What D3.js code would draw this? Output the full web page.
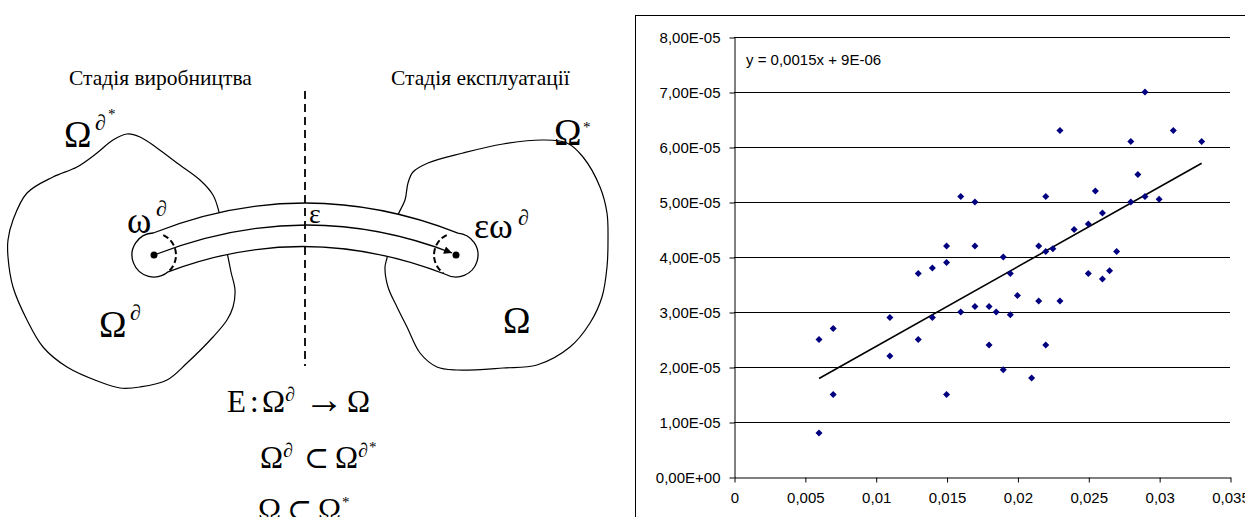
<!DOCTYPE html>
<html>
<head>
<meta charset="utf-8">
<script src="https://cdn.jsdelivr.net/npm/d3@7"></script>
<style>
body { margin: 0; background: #fff; }
svg { display: block; }
</style>
</head>
<body>
<div id="figure"></div>
<script>
// ---- scatter data ----
const xValues = [0.006, 0.006, 0.007, 0.007, 0.011, 0.011, 0.013, 0.013, 0.014, 0.014,
    0.015, 0.015, 0.015, 0.016, 0.016, 0.017, 0.017, 0.017, 0.018, 0.018,
    0.0185, 0.019, 0.019, 0.0195, 0.0195, 0.020, 0.021, 0.0215, 0.0215, 0.022,
    0.022, 0.022, 0.0225, 0.023, 0.023, 0.024, 0.025, 0.025, 0.0255, 0.026,
    0.026, 0.0265, 0.027, 0.028, 0.028, 0.0285, 0.029, 0.029, 0.030, 0.031, 0.033];
const yValues = [2.5e-5, 0.8e-5, 2.7e-5, 1.5e-5, 2.9e-5, 2.2e-5, 3.7e-5, 2.5e-5, 3.8e-5, 2.9e-5,
    4.2e-5, 3.9e-5, 1.5e-5, 5.1e-5, 3.0e-5, 5.0e-5, 4.2e-5, 3.1e-5, 3.1e-5, 2.4e-5,
    3.0e-5, 4.0e-5, 1.95e-5, 3.7e-5, 2.95e-5, 3.3e-5, 1.8e-5, 4.2e-5, 3.2e-5, 5.1e-5,
    4.1e-5, 2.4e-5, 4.15e-5, 6.3e-5, 3.2e-5, 4.5e-5, 4.6e-5, 3.7e-5, 5.2e-5, 4.8e-5,
    3.6e-5, 3.75e-5, 4.1e-5, 6.1e-5, 5.0e-5, 5.5e-5, 7.0e-5, 5.1e-5, 5.05e-5, 6.3e-5, 6.1e-5];

const xTicks = [0, 0.005, 0.01, 0.015, 0.02, 0.025, 0.03, 0.035];
const xTickLabels = ["0", "0,005", "0,01", "0,015", "0,02", "0,025", "0,03", "0,035"];
const yTicks = [0, 1e-5, 2e-5, 3e-5, 4e-5, 5e-5, 6e-5, 7e-5, 8e-5];
const yTickLabels = ["0,00E+00", "1,00E-05", "2,00E-05", "3,00E-05", "4,00E-05",
    "5,00E-05", "6,00E-05", "7,00E-05", "8,00E-05"];

const trendSlope = 0.00145;
const trendIntercept = 9.2e-6;
const trendRange = [0.006, 0.033];
const trendLabel = "y = 0,0015x + 9E-06";

// ---- diagram text ----
const stageLabels = ["Стадія виробництва", "Стадія експлуатації"];

const serif = "'Liberation Serif', 'Times New Roman', 'DejaVu Serif', serif";
const sans = "'Liberation Sans', Arial, sans-serif";

const svg = d3.select("#figure")
    .append("svg")
    .attr("width", 1245)
    .attr("height", 517);

svg.append("rect").attr("width", 1245).attr("height", 517).attr("fill", "#fff");

drawDiagram();
drawScatter();

function drawDiagram() {
    let g = svg.append("g");

    // outlines of the two regions
    const leftBlob = [[127,134],[140,137],[157,148],[177,163],[200,180],[213,195],[219,212],
        [223,235],[228,257],[231,272],[235,290],[233,307],[227,320],[213,337],[187,363],
        [167,380],[140,387],[120,388],[100,382],[67,367],[43,347],[27,320],[13,287],
        [8,257],[8,240],[13,220],[27,193],[53,177],[77,167],[97,153],[113,140]];
    const rightBlob = [[398,215],[405,200],[408,183],[413,172],[428,163],[463,153],[503,144],
        [543,140],[567,143],[583,157],[600,187],[607,213],[608,240],[607,267],[602,297],
        [590,323],[570,347],[537,365],[503,368],[457,370],[437,367],[420,353],[407,327],
        [397,307],[388,287],[385,267],[387,258],[392,236]];

    let blobLine = d3.line().curve(d3.curveCatmullRomClosed.alpha(0.5));
    g.selectAll("path.blob")
        .data([leftBlob, rightBlob])
        .enter()
        .append("path")
        .attr("class", "blob")
        .attr("d", blobLine)
        .attr("fill", "none")
        .attr("stroke", "#000")
        .attr("stroke-width", 1.2);

    // the tube between the two small discs
    const L = [154, 255], R = [456, 255], r = 22;
    function pt(c, deg) {
        let a = deg * Math.PI / 180;
        return [c[0] + r * Math.cos(a), c[1] + r * Math.sin(a)];
    }
    let lt = pt(L, -92), lb = pt(L, 50);
    let rt = pt(R, -85), rb = pt(R, 119);
    let tube = "M" + lt + " Q305,173 " + rt +
        " A" + r + "," + r + " 0 1 1 " + rb +
        " Q305,220 " + lb +
        " A" + r + "," + r + " 0 1 1 " + lt + " Z";
    g.append("path")
        .attr("d", tube)
        .attr("fill", "#fff")
        .attr("stroke", "#000")
        .attr("stroke-width", 1.3);

    // dashed inner halves of the discs
    let ld1 = pt(L, -65), ld2 = pt(L, 50);
    let rd1 = pt(R, -115), rd2 = pt(R, 125);
    g.append("path")
        .attr("d", "M" + ld1 + " A" + r + "," + r + " 0 0 1 " + ld2)
        .attr("fill", "none").attr("stroke", "#000")
        .attr("stroke-width", 2).attr("stroke-dasharray", "6,3");
    g.append("path")
        .attr("d", "M" + rd1 + " A" + r + "," + r + " 0 0 0 " + rd2)
        .attr("fill", "none").attr("stroke", "#000")
        .attr("stroke-width", 2).attr("stroke-dasharray", "6,3");

    // stage divider
    g.append("line")
        .attr("x1", 305).attr("x2", 305)
        .attr("y1", 91).attr("y2", 366)
        .attr("stroke", "#000")
        .attr("stroke-width", 1.8)
        .attr("stroke-dasharray", "8,5");

    // arrow along the middle
    svg.append("defs").append("marker")
        .attr("id", "arrow")
        .attr("viewBox", "0 0 10 10")
        .attr("refX", 10).attr("refY", 5)
        .attr("markerUnits", "userSpaceOnUse")
        .attr("markerWidth", 10).attr("markerHeight", 8)
        .attr("orient", "auto")
        .append("path")
        .attr("d", "M0,0 L10,5 L0,10 Z")
        .attr("fill", "#000");
    g.append("path")
        .attr("d", "M" + L + " Q305,196 452,253")
        .attr("fill", "none")
        .attr("stroke", "#000")
        .attr("stroke-width", 1.3)
        .attr("marker-end", "url(#arrow)");

    g.selectAll("circle.centre")
        .data([L, R])
        .enter()
        .append("circle")
        .attr("class", "centre")
        .attr("cx", d => d[0]).attr("cy", d => d[1])
        .attr("r", 3.5)
        .attr("fill", "#000");

    // headings
    g.append("text").attr("x", 69).attr("y", 85).text(stageLabels[0])
        .attr("font-family", serif).attr("font-size", 21.5);
    g.append("text").attr("x", 391).attr("y", 85).text(stageLabels[1])
        .attr("font-family", serif).attr("font-size", 21.5);

    // symbols: [text, x, y, size]
    const symbols = [
        ["Ω", 64, 147, 37], ["∂", 95, 130, 22], ["*", 108, 119, 15],
        ["Ω", 554, 145, 37], ["*", 583, 132, 15],
        ["ω", 127, 233, 37], ["∂", 156, 216, 22],
        ["ε", 309, 223, 28],
        ["εω", 474, 238, 36], ["∂", 518, 225, 22],
        ["Ω", 99, 337, 37], ["∂", 130, 320, 22],
        ["Ω", 503, 333, 37],
        ["E", 227, 412, 31], [":", 250, 412, 31], ["Ω", 262, 412, 31], ["∂", 285, 401, 20],
        ["→", 304, 413, 40], ["Ω", 347, 412, 31],
        ["Ω", 260, 468, 31], ["∂", 283, 457, 20], ["⊂", 304, 468, 30],
        ["Ω", 335, 468, 31], ["∂", 358, 457, 20], ["*", 369, 452, 15],
        ["Ω", 258, 520, 31], ["⊂", 287, 520, 30], ["Ω", 318, 520, 31], ["*", 342, 507, 15]
    ];
    g.selectAll("text.sym")
        .data(symbols)
        .enter()
        .append("text")
        .attr("class", "sym")
        .attr("x", d => d[1])
        .attr("y", d => d[2])
        .attr("font-family", serif)
        .attr("font-size", d => d[3])
        .text(d => d[0]);
}

function drawScatter() {
    const left = 734, right = 1230, top = 37, bottom = 477;

    // chart frame (runs off the picture on the right and bottom)
    svg.append("rect")
        .attr("x", 635.5).attr("y", 15.5)
        .attr("width", 700).attr("height", 600)
        .attr("fill", "none")
        .attr("stroke", "#000")
        .attr("stroke-width", 1);

    let x = d3.scaleLinear().domain([0, 0.035]).range([left, right]);
    let y = d3.scaleLinear().domain([0, 8e-5]).range([bottom, top]);

    svg.append("g")
        .selectAll("line")
        .data(yTicks.filter(d => d > 0))
        .enter()
        .append("line")
        .attr("x1", left).attr("x2", right)
        .attr("y1", d => Math.round(y(d)) + 0.5)
        .attr("y2", d => Math.round(y(d)) + 0.5)
        .attr("stroke", "#000")
        .attr("stroke-width", 1);

    let yAxis = svg.append("g")
        .attr("transform", "translate(" + (left + 0.5) + ",0.5)")
        .call(d3.axisLeft(y)
            .tickValues(yTicks)
            .tickSize(5)
            .tickSizeOuter(0)
            .tickPadding(9)
            .tickFormat((d, i) => yTickLabels[i]));

    let xAxis = svg.append("g")
        .attr("transform", "translate(0.5," + (bottom + 0.5) + ")")
        .call(d3.axisBottom(x)
            .tickValues(xTicks)
            .tickSize(5)
            .tickSizeOuter(0)
            .tickPadding(10)
            .tickFormat((d, i) => xTickLabels[i]));

    [yAxis, xAxis].forEach(function (a) {
        a.attr("font-family", sans).attr("font-size", 15);
        a.selectAll("path, line").attr("stroke", "#000");
        a.selectAll("text").attr("fill", "#000");
    });

    // trend line
    svg.append("line")
        .attr("x1", x(trendRange[0]))
        .attr("y1", y(trendSlope * trendRange[0] + trendIntercept))
        .attr("x2", x(trendRange[1]))
        .attr("y2", y(trendSlope * trendRange[1] + trendIntercept))
        .attr("stroke", "#000")
        .attr("stroke-width", 1.6);

    // points as diamonds
    svg.append("g")
        .selectAll("path")
        .data(xValues)
        .enter()
        .append("path")
        .attr("d", "M0,-3.5 L3.5,0 L0,3.5 L-3.5,0 Z")
        .attr("transform", (d, i) => "translate(" + x(d) + "," + y(yValues[i]) + ")")
        .attr("fill", "#000080");

    svg.append("text")
        .attr("x", 746).attr("y", 65)
        .attr("font-family", sans)
        .attr("font-size", 15)
        .text(trendLabel);
}
</script>
</body>
</html>
